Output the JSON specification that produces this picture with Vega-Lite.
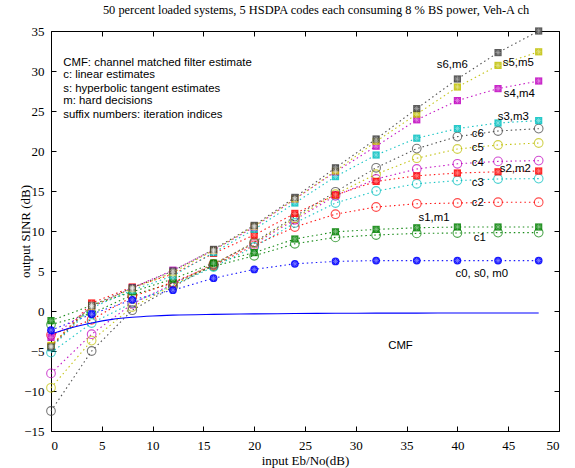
{
  "$schema": "https://vega.github.io/schema/vega-lite/v6.json",
  "autosize": {"type": "none"},
  "width": 508,
  "height": 400,
  "padding": {"left": 51, "top": 31, "right": 16, "bottom": 37},
  "background": "white",
  "config": {
    "view": {"stroke": "black", "strokeWidth": 1},
    "axis": {"grid": false, "domain": false, "tickColor": "black", "tickWidth": 1, "tickSize": -5, "labelFont": "Liberation Serif", "labelFontSize": 13, "labelColor": "black", "titleFont": "Liberation Serif", "titleFontSize": 13, "titleFontWeight": "normal", "titleColor": "black"}
  },
  "title": {"text": "50 percent loaded systems, 5 HSDPA codes each consuming 8 % BS power, Veh-A ch", "font": "Liberation Serif", "fontSize": 12.4, "fontWeight": "normal", "offset": 9, "dx": 11},
  "datasets": {
    "series": [
      {"s": "c0", "g": 0, "k": "f", "x": 0, "y": -2.4}, {"s": "c0", "g": 0, "k": "f", "x": 4, "y": -0.4}, {"s": "c0", "g": 0, "k": "f", "x": 8, "y": 1.4}, {"s": "c0", "g": 0, "k": "f", "x": 12, "y": 2.6}, {"s": "c0", "g": 0, "k": "f", "x": 16, "y": 4.1}, {"s": "c0", "g": 0, "k": "f", "x": 20, "y": 5.2}, {"s": "c0", "g": 0, "k": "f", "x": 24, "y": 5.9}, {"s": "c0", "g": 0, "k": "f", "x": 28, "y": 6.2}, {"s": "c0", "g": 0, "k": "f", "x": 32, "y": 6.3}, {"s": "c0", "g": 0, "k": "f", "x": 36, "y": 6.3}, {"s": "c0", "g": 0, "k": "f", "x": 40, "y": 6.3}, {"s": "c0", "g": 0, "k": "f", "x": 44, "y": 6.3}, {"s": "c0", "g": 0, "k": "f", "x": 48, "y": 6.3},

      {"s": "c1", "g": 1, "k": "c", "x": 0, "y": -1.7}, {"s": "c1", "g": 1, "k": "c", "x": 4, "y": -0.3}, {"s": "c1", "g": 1, "k": "c", "x": 8, "y": 2.0}, {"s": "c1", "g": 1, "k": "c", "x": 12, "y": 3.5}, {"s": "c1", "g": 1, "k": "c", "x": 16, "y": 5.6}, {"s": "c1", "g": 1, "k": "c", "x": 20, "y": 6.9}, {"s": "c1", "g": 1, "k": "c", "x": 24, "y": 8.4}, {"s": "c1", "g": 1, "k": "c", "x": 28, "y": 9.2}, {"s": "c1", "g": 1, "k": "c", "x": 32, "y": 9.5}, {"s": "c1", "g": 1, "k": "c", "x": 36, "y": 9.7}, {"s": "c1", "g": 1, "k": "c", "x": 40, "y": 9.75}, {"s": "c1", "g": 1, "k": "c", "x": 44, "y": 9.8}, {"s": "c1", "g": 1, "k": "c", "x": 48, "y": 9.8},

      {"s": "s1", "g": 1, "k": "s", "x": 0, "y": -1.2}, {"s": "s1", "g": 1, "k": "s", "x": 4, "y": 0.7}, {"s": "s1", "g": 1, "k": "s", "x": 8, "y": 2.4}, {"s": "s1", "g": 1, "k": "s", "x": 12, "y": 4.0}, {"s": "s1", "g": 1, "k": "s", "x": 16, "y": 6.0}, {"s": "s1", "g": 1, "k": "s", "x": 20, "y": 7.3}, {"s": "s1", "g": 1, "k": "s", "x": 24, "y": 9.0}, {"s": "s1", "g": 1, "k": "s", "x": 28, "y": 9.9}, {"s": "s1", "g": 1, "k": "s", "x": 32, "y": 10.2}, {"s": "s1", "g": 1, "k": "s", "x": 36, "y": 10.4}, {"s": "s1", "g": 1, "k": "s", "x": 40, "y": 10.5}, {"s": "s1", "g": 1, "k": "s", "x": 44, "y": 10.5}, {"s": "s1", "g": 1, "k": "s", "x": 48, "y": 10.5},

      {"s": "c2", "g": 2, "k": "c", "x": 0, "y": -3.0}, {"s": "c2", "g": 2, "k": "c", "x": 4, "y": -1.1}, {"s": "c2", "g": 2, "k": "c", "x": 8, "y": 1.8}, {"s": "c2", "g": 2, "k": "c", "x": 12, "y": 3.6}, {"s": "c2", "g": 2, "k": "c", "x": 16, "y": 5.7}, {"s": "c2", "g": 2, "k": "c", "x": 20, "y": 8.2}, {"s": "c2", "g": 2, "k": "c", "x": 24, "y": 10.5}, {"s": "c2", "g": 2, "k": "c", "x": 28, "y": 12.1}, {"s": "c2", "g": 2, "k": "c", "x": 32, "y": 13.0}, {"s": "c2", "g": 2, "k": "c", "x": 36, "y": 13.4}, {"s": "c2", "g": 2, "k": "c", "x": 40, "y": 13.5}, {"s": "c2", "g": 2, "k": "c", "x": 44, "y": 13.6}, {"s": "c2", "g": 2, "k": "c", "x": 48, "y": 13.6},

      {"s": "s2", "g": 2, "k": "s", "x": 0, "y": -4.4}, {"s": "s2", "g": 2, "k": "s", "x": 4, "y": 1.0}, {"s": "s2", "g": 2, "k": "s", "x": 8, "y": 3.0}, {"s": "s2", "g": 2, "k": "s", "x": 12, "y": 4.6}, {"s": "s2", "g": 2, "k": "s", "x": 16, "y": 7.2}, {"s": "s2", "g": 2, "k": "s", "x": 20, "y": 9.5}, {"s": "s2", "g": 2, "k": "s", "x": 24, "y": 12.2}, {"s": "s2", "g": 2, "k": "s", "x": 28, "y": 14.5}, {"s": "s2", "g": 2, "k": "s", "x": 32, "y": 16.2}, {"s": "s2", "g": 2, "k": "s", "x": 36, "y": 16.9}, {"s": "s2", "g": 2, "k": "s", "x": 40, "y": 17.25}, {"s": "s2", "g": 2, "k": "s", "x": 44, "y": 17.4}, {"s": "s2", "g": 2, "k": "s", "x": 48, "y": 17.5},

      {"s": "c3", "g": 3, "k": "c", "x": 0, "y": -5.2}, {"s": "c3", "g": 3, "k": "c", "x": 4, "y": -1.5}, {"s": "c3", "g": 3, "k": "c", "x": 8, "y": 1.0}, {"s": "c3", "g": 3, "k": "c", "x": 12, "y": 3.2}, {"s": "c3", "g": 3, "k": "c", "x": 16, "y": 5.5}, {"s": "c3", "g": 3, "k": "c", "x": 20, "y": 8.0}, {"s": "c3", "g": 3, "k": "c", "x": 24, "y": 11.0}, {"s": "c3", "g": 3, "k": "c", "x": 28, "y": 13.5}, {"s": "c3", "g": 3, "k": "c", "x": 32, "y": 15.0}, {"s": "c3", "g": 3, "k": "c", "x": 36, "y": 15.9}, {"s": "c3", "g": 3, "k": "c", "x": 40, "y": 16.3}, {"s": "c3", "g": 3, "k": "c", "x": 44, "y": 16.5}, {"s": "c3", "g": 3, "k": "c", "x": 48, "y": 16.55},

      {"s": "s3", "g": 3, "k": "s", "x": 0, "y": -4.6}, {"s": "s3", "g": 3, "k": "s", "x": 4, "y": 0.4}, {"s": "s3", "g": 3, "k": "s", "x": 8, "y": 2.6}, {"s": "s3", "g": 3, "k": "s", "x": 12, "y": 4.4}, {"s": "s3", "g": 3, "k": "s", "x": 16, "y": 7.3}, {"s": "s3", "g": 3, "k": "s", "x": 20, "y": 10.2}, {"s": "s3", "g": 3, "k": "s", "x": 24, "y": 13.5}, {"s": "s3", "g": 3, "k": "s", "x": 28, "y": 16.8}, {"s": "s3", "g": 3, "k": "s", "x": 32, "y": 19.5}, {"s": "s3", "g": 3, "k": "s", "x": 36, "y": 21.6}, {"s": "s3", "g": 3, "k": "s", "x": 40, "y": 22.8}, {"s": "s3", "g": 3, "k": "s", "x": 44, "y": 23.5}, {"s": "s3", "g": 3, "k": "s", "x": 48, "y": 23.8},

      {"s": "c4", "g": 4, "k": "c", "x": 0, "y": -7.8}, {"s": "c4", "g": 4, "k": "c", "x": 4, "y": -2.9}, {"s": "c4", "g": 4, "k": "c", "x": 8, "y": 0.9}, {"s": "c4", "g": 4, "k": "c", "x": 12, "y": 3.4}, {"s": "c4", "g": 4, "k": "c", "x": 16, "y": 5.9}, {"s": "c4", "g": 4, "k": "c", "x": 20, "y": 8.4}, {"s": "c4", "g": 4, "k": "c", "x": 24, "y": 11.4}, {"s": "c4", "g": 4, "k": "c", "x": 28, "y": 14.4}, {"s": "c4", "g": 4, "k": "c", "x": 32, "y": 16.5}, {"s": "c4", "g": 4, "k": "c", "x": 36, "y": 17.75}, {"s": "c4", "g": 4, "k": "c", "x": 40, "y": 18.4}, {"s": "c4", "g": 4, "k": "c", "x": 44, "y": 18.7}, {"s": "c4", "g": 4, "k": "c", "x": 48, "y": 18.8},

      {"s": "s4", "g": 4, "k": "s", "x": 0, "y": -3.3}, {"s": "s4", "g": 4, "k": "s", "x": 4, "y": 0.5}, {"s": "s4", "g": 4, "k": "s", "x": 8, "y": 2.9}, {"s": "s4", "g": 4, "k": "s", "x": 12, "y": 5.1}, {"s": "s4", "g": 4, "k": "s", "x": 16, "y": 7.6}, {"s": "s4", "g": 4, "k": "s", "x": 20, "y": 10.5}, {"s": "s4", "g": 4, "k": "s", "x": 24, "y": 14.0}, {"s": "s4", "g": 4, "k": "s", "x": 28, "y": 17.4}, {"s": "s4", "g": 4, "k": "s", "x": 32, "y": 20.6}, {"s": "s4", "g": 4, "k": "s", "x": 36, "y": 23.9}, {"s": "s4", "g": 4, "k": "s", "x": 40, "y": 26.3}, {"s": "s4", "g": 4, "k": "s", "x": 44, "y": 27.8}, {"s": "s4", "g": 4, "k": "s", "x": 48, "y": 28.75},

      {"s": "c5", "g": 5, "k": "c", "x": 0, "y": -9.6}, {"s": "c5", "g": 5, "k": "c", "x": 4, "y": -3.7}, {"s": "c5", "g": 5, "k": "c", "x": 8, "y": 0.5}, {"s": "c5", "g": 5, "k": "c", "x": 12, "y": 3.2}, {"s": "c5", "g": 5, "k": "c", "x": 16, "y": 5.9}, {"s": "c5", "g": 5, "k": "c", "x": 20, "y": 8.5}, {"s": "c5", "g": 5, "k": "c", "x": 24, "y": 11.6}, {"s": "c5", "g": 5, "k": "c", "x": 28, "y": 14.6}, {"s": "c5", "g": 5, "k": "c", "x": 32, "y": 17.1}, {"s": "c5", "g": 5, "k": "c", "x": 36, "y": 19.1}, {"s": "c5", "g": 5, "k": "c", "x": 40, "y": 20.25}, {"s": "c5", "g": 5, "k": "c", "x": 44, "y": 20.75}, {"s": "c5", "g": 5, "k": "c", "x": 48, "y": 21.0},

      {"s": "s5", "g": 5, "k": "s", "x": 0, "y": -4.3}, {"s": "s5", "g": 5, "k": "s", "x": 4, "y": 0.6}, {"s": "s5", "g": 5, "k": "s", "x": 8, "y": 2.8}, {"s": "s5", "g": 5, "k": "s", "x": 12, "y": 4.8}, {"s": "s5", "g": 5, "k": "s", "x": 16, "y": 7.6}, {"s": "s5", "g": 5, "k": "s", "x": 20, "y": 10.6}, {"s": "s5", "g": 5, "k": "s", "x": 24, "y": 14.0}, {"s": "s5", "g": 5, "k": "s", "x": 28, "y": 17.5}, {"s": "s5", "g": 5, "k": "s", "x": 32, "y": 21.2}, {"s": "s5", "g": 5, "k": "s", "x": 36, "y": 24.6}, {"s": "s5", "g": 5, "k": "s", "x": 40, "y": 28.0}, {"s": "s5", "g": 5, "k": "s", "x": 44, "y": 30.7}, {"s": "s5", "g": 5, "k": "s", "x": 48, "y": 32.4},

      {"s": "c6", "g": 6, "k": "c", "x": 0, "y": -12.5}, {"s": "c6", "g": 6, "k": "c", "x": 4, "y": -5.0}, {"s": "c6", "g": 6, "k": "c", "x": 8, "y": 0.1}, {"s": "c6", "g": 6, "k": "c", "x": 12, "y": 3.0}, {"s": "c6", "g": 6, "k": "c", "x": 16, "y": 5.8}, {"s": "c6", "g": 6, "k": "c", "x": 20, "y": 8.6}, {"s": "c6", "g": 6, "k": "c", "x": 24, "y": 11.8}, {"s": "c6", "g": 6, "k": "c", "x": 28, "y": 14.9}, {"s": "c6", "g": 6, "k": "c", "x": 32, "y": 17.9}, {"s": "c6", "g": 6, "k": "c", "x": 36, "y": 20.3}, {"s": "c6", "g": 6, "k": "c", "x": 40, "y": 21.8}, {"s": "c6", "g": 6, "k": "c", "x": 44, "y": 22.5}, {"s": "c6", "g": 6, "k": "c", "x": 48, "y": 22.8},

      {"s": "s6", "g": 6, "k": "s", "x": 0, "y": -4.5}, {"s": "s6", "g": 6, "k": "s", "x": 4, "y": 0.7}, {"s": "s6", "g": 6, "k": "s", "x": 8, "y": 2.9}, {"s": "s6", "g": 6, "k": "s", "x": 12, "y": 5.0}, {"s": "s6", "g": 6, "k": "s", "x": 16, "y": 7.7}, {"s": "s6", "g": 6, "k": "s", "x": 20, "y": 10.7}, {"s": "s6", "g": 6, "k": "s", "x": 24, "y": 14.2}, {"s": "s6", "g": 6, "k": "s", "x": 28, "y": 17.9}, {"s": "s6", "g": 6, "k": "s", "x": 32, "y": 21.5}, {"s": "s6", "g": 6, "k": "s", "x": 36, "y": 25.3}, {"s": "s6", "g": 6, "k": "s", "x": 40, "y": 29.0}, {"s": "s6", "g": 6, "k": "s", "x": 44, "y": 32.3}, {"s": "s6", "g": 6, "k": "s", "x": 48, "y": 35.0}
    ],
    "cmf": [
      {"x": 0, "y": -2.9}, {"x": 2, "y": -2.1}, {"x": 4, "y": -1.5}, {"x": 6, "y": -1.05}, {"x": 8, "y": -0.78}, {"x": 10, "y": -0.62}, {"x": 12, "y": -0.52}, {"x": 16, "y": -0.42}, {"x": 20, "y": -0.36}, {"x": 24, "y": -0.32}, {"x": 28, "y": -0.29}, {"x": 32, "y": -0.27}, {"x": 36, "y": -0.26}, {"x": 40, "y": -0.25}, {"x": 44, "y": -0.25}, {"x": 48, "y": -0.25}
    ],
    "ann": [
      {"t": "s6,m6", "x": 39.5, "y": 30.75},
      {"t": "s5,m5", "x": 46.0, "y": 31.0},
      {"t": "s4,m4", "x": 46.1, "y": 27.1},
      {"t": "s3,m3", "x": 45.5, "y": 24.25},
      {"t": "c6", "x": 42.0, "y": 22.1},
      {"t": "c5", "x": 42.0, "y": 20.4},
      {"t": "c4", "x": 42.0, "y": 18.5},
      {"t": "s2,m2", "x": 45.7, "y": 17.75},
      {"t": "c3", "x": 42.0, "y": 16.0},
      {"t": "c2", "x": 42.0, "y": 13.5},
      {"t": "s1,m1", "x": 37.7, "y": 11.6},
      {"t": "c1", "x": 42.2, "y": 9.1},
      {"t": "c0, s0, m0", "x": 42.4, "y": 4.6},
      {"t": "CMF", "x": 34.4, "y": -4.4}
    ],
    "note": [
      {"t": "CMF: channel matched filter estimate", "x": 1.2, "y": 31.0},
      {"t": "c: linear estimates", "x": 1.2, "y": 29.45},
      {"t": "s: hyperbolic tangent estimates", "x": 1.2, "y": 27.8},
      {"t": "m: hard decisions", "x": 1.2, "y": 26.2},
      {"t": "suffix numbers: iteration  indices", "x": 1.2, "y": 24.55}
    ]
  },
  "layer": [
    {
      "data": {"name": "series"},
      "mark": {"type": "line", "strokeDash": [1.5, 3], "strokeWidth": 1.1, "opacity": 0.9},
      "encoding": {
        "x": {"field": "x", "type": "quantitative", "scale": {"domain": [0, 50], "nice": false, "zero": false}, "axis": {"values": [0, 5, 10, 15, 20, 25, 30, 35, 40, 45, 50], "title": "input Eb/No(dB)", "labelPadding": 13, "titlePadding": 2}},
        "y": {"field": "y", "type": "quantitative", "scale": {"domain": [-15, 35], "nice": false, "zero": false}, "axis": {"values": [-15, -10, -5, 0, 5, 10, 15, 20, 25, 30, 35], "title": "output SINR (dB)", "labelPadding": 12, "titlePadding": -9}},
        "color": {"field": "g", "type": "nominal", "scale": {"domain": [0, 1, 2, 3, 4, 5, 6], "range": ["#0000ff", "#008000", "#ff0000", "#00bfbf", "#bf00bf", "#bfbf00", "#404040"]}, "legend": null},
        "detail": {"field": "s"}
      }
    },
    {
      "data": {"name": "series"},
      "transform": [{"filter": "datum.k === 'c'"}],
      "mark": {"type": "point", "shape": "circle", "filled": false, "size": 75, "strokeWidth": 1.1},
      "encoding": {
        "x": {"field": "x", "type": "quantitative", "axis": null},
        "y": {"field": "y", "type": "quantitative", "axis": null},
        "color": {"field": "g", "type": "nominal", "legend": null}
      }
    },
    {
      "data": {"name": "series"},
      "transform": [{"filter": "datum.k === 's'"}],
      "mark": {"type": "point", "shape": "square", "filled": true, "size": 52, "opacity": 0.85},
      "encoding": {
        "x": {"field": "x", "type": "quantitative", "axis": null},
        "y": {"field": "y", "type": "quantitative", "axis": null},
        "color": {"field": "g", "type": "nominal", "legend": null}
      }
    },
    {
      "data": {"name": "series"},
      "transform": [{"filter": "datum.k === 'f'"}],
      "mark": {"type": "point", "shape": "circle", "filled": true, "size": 60, "opacity": 0.9},
      "encoding": {
        "x": {"field": "x", "type": "quantitative", "axis": null},
        "y": {"field": "y", "type": "quantitative", "axis": null},
        "color": {"field": "g", "type": "nominal", "legend": null}
      }
    },
    {
      "data": {"name": "series"},
      "transform": [{"filter": "datum.k !== 'c'"}],
      "mark": {"type": "point", "shape": "M-1,0L1,0M0,-1L0,1M-0.7,-0.7L0.7,0.7M-0.7,0.7L0.7,-0.7", "filled": false, "size": 28, "strokeWidth": 0.8, "color": "white", "opacity": 0.45},
      "encoding": {
        "x": {"field": "x", "type": "quantitative", "axis": null},
        "y": {"field": "y", "type": "quantitative", "axis": null}
      }
    },
    {
      "data": {"name": "cmf"},
      "mark": {"type": "line", "color": "#0000ff", "strokeWidth": 1.1, "interpolate": "monotone"},
      "encoding": {
        "x": {"field": "x", "type": "quantitative", "axis": null},
        "y": {"field": "y", "type": "quantitative", "axis": null}
      }
    },
    {
      "data": {"name": "ann"},
      "mark": {"type": "text", "font": "Liberation Sans", "fontSize": 11.4, "color": "black", "align": "center", "baseline": "middle"},
      "encoding": {
        "x": {"field": "x", "type": "quantitative", "axis": null},
        "y": {"field": "y", "type": "quantitative", "axis": null},
        "text": {"field": "t"}
      }
    },
    {
      "data": {"name": "note"},
      "mark": {"type": "text", "font": "Liberation Sans", "fontSize": 11.4, "color": "black", "align": "left", "baseline": "middle"},
      "encoding": {
        "x": {"field": "x", "type": "quantitative", "axis": null},
        "y": {"field": "y", "type": "quantitative", "axis": null},
        "text": {"field": "t"}
      }
    },
    {
      "data": {"name": "cmf"},
      "mark": {"type": "rule", "opacity": 0},
      "encoding": {
        "x": {"field": "x", "type": "quantitative", "axis": {"orient": "top", "values": [0, 5, 10, 15, 20, 25, 30, 35, 40, 45, 50], "labels": false, "title": null}},
        "y": {"field": "y", "type": "quantitative", "axis": {"orient": "right", "values": [-15, -10, -5, 0, 5, 10, 15, 20, 25, 30, 35], "labels": false, "title": null}}
      }
    }
  ],
  "resolve": {"axis": {"x": "independent", "y": "independent"}}
}
